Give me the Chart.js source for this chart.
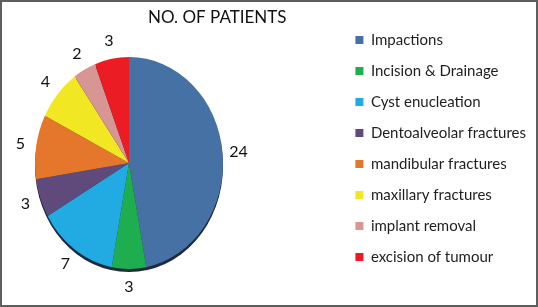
<!DOCTYPE html>
<html>
<head>
<meta charset="utf-8">
<script src="https://cdn.jsdelivr.net/npm/chart.js@4.4.0/dist/chart.umd.min.js"></script>
<style>
  body { margin: 0; background: #fff; }
  #frame { width: 538px; height: 307px; box-sizing: border-box; border: 2px solid #5e5e5e; background: #fff; }
  canvas { display: block; }
</style>
</head>
<body>
<div id="frame"><canvas id="pieChart" width="534" height="303"></canvas></div>
<script>
const categories = ['Impactions', 'Incision & Drainage', 'Cyst enucleation', 'Dentoalveolar fractures', 'mandibular fractures', 'maxillary fractures', 'implant removal', 'excision of tumour'];
const patients = [24, 3, 7, 3, 5, 4, 2, 3];
const sliceColors = ['#4571a5', '#1fae4f', '#22aae2', '#604a7b', '#e4772b', '#f2e723', '#d79593', '#ec1c24'];
const chartTitle = 'NO. OF PATIENTS';

const fontFamily = 'Lato, "Open Sans", sans-serif';
const legendSize = 15;

// pie spot on the canvas, the picture has it a bit taller than wide
const pieBox = { x: 127, y: 161, rx: 94, ry: 106 };
const labelReach = 1.17;

// right padding so the legend boxes land near x=356
const measure = document.createElement('canvas').getContext('2d');
measure.font = legendSize + 'px ' + fontFamily;
const longest = Math.max(...categories.map(c => measure.measureText(c).width));
const legendRight = Math.max(0, 534 - 10 - (8 + legendSize / 2 + longest) - 356);

// squash the pie into an oval and put the numbers outside it
const ovalPie = {
  id: 'ovalPie',
  beforeDatasetsDraw(chart) {
    const arc = chart.getDatasetMeta(0).data[0];
    const ctx = chart.ctx;
    const r = arc.outerRadius;
    ctx.save();
    ctx.translate(pieBox.x, pieBox.y);
    ctx.scale(pieBox.rx / r, pieBox.ry / r);
    ctx.translate(-arc.x, -arc.y);
    // dark rim under the pie
    ctx.beginPath();
    ctx.arc(arc.x, arc.y + 3 * r / pieBox.ry, r, 0, Math.PI * 2);
    ctx.fillStyle = '#1d2b3d';
    ctx.fill();
  },
  afterDatasetsDraw(chart) {
    const ctx = chart.ctx;
    ctx.restore();
    ctx.save();
    ctx.font = '16px ' + fontFamily;
    ctx.fillStyle = '#111';
    ctx.textAlign = 'center';
    ctx.textBaseline = 'middle';
    chart.getDatasetMeta(0).data.forEach((arc, i) => {
      const mid = (arc.startAngle + arc.endAngle) / 2;
      ctx.fillText(patients[i], pieBox.x + pieBox.rx * labelReach * Math.cos(mid), pieBox.y + pieBox.ry * labelReach * Math.sin(mid));
    });
    ctx.restore();
  }
};

new Chart(document.getElementById('pieChart'), {
  type: 'pie',
  data: {
    labels: categories,
    datasets: [{ data: patients, backgroundColor: sliceColors, borderWidth: 0 }]
  },
  options: {
    responsive: false,
    animation: false,
    devicePixelRatio: 1,
    layout: { padding: { left: 93, right: legendRight, top: 0, bottom: 10 } },
    plugins: {
      title: {
        display: true, text: chartTitle, fullSize: false, color: '#111',
        font: { family: fontFamily, size: 17, weight: 'normal' },
        padding: { top: 5, bottom: 10 }
      },
      legend: {
        position: 'right',
        labels: {
          boxWidth: 8, boxHeight: 8, padding: 16, color: '#1e1e1e',
          font: { family: fontFamily, size: legendSize }
        }
      },
      tooltip: { enabled: false }
    }
  },
  plugins: [ovalPie]
});
</script>
</body>
</html>
